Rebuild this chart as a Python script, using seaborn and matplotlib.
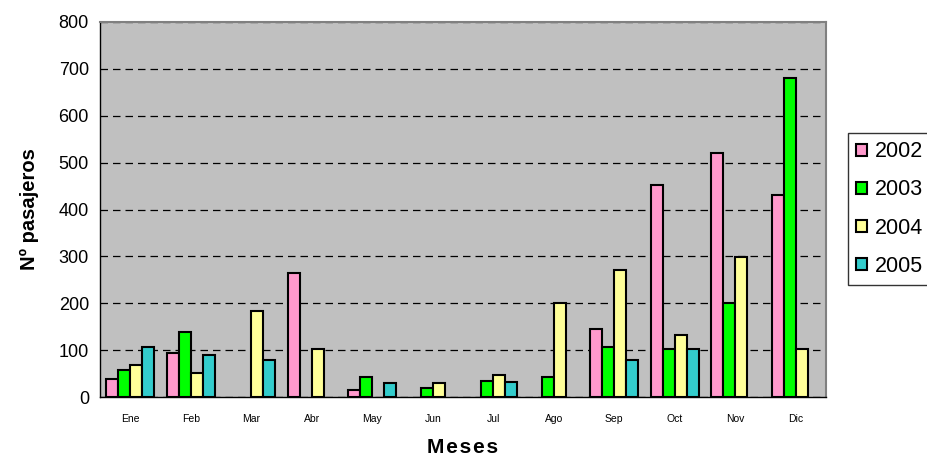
import matplotlib
matplotlib.use("Agg")
import matplotlib.pyplot as plt
import seaborn as sns
import pandas as pd
import numpy as np

# monthly passenger counts per year (NaN = no bar)
meses = ["Ene", "Feb", "Mar", "Abr", "May", "Jun", "Jul", "Ago", "Sep", "Oct", "Nov", "Dic"]
years = ["2002", "2003", "2004", "2005"]
v2002 = [38, 94, np.nan, 265, 16, np.nan, np.nan, np.nan, 145, 452, 520, 430]
v2003 = [58, 139, np.nan, np.nan, 42, 20, 34, 42, 107, 102, 200, 680]
v2004 = [68, 51, 183, 102, np.nan, 29, 46, 200, 272, 133, 298, 102]
v2005 = [107, 90, 80, np.nan, 29, np.nan, 33, np.nan, 80, 102, np.nan, np.nan]
colors = ["#FF99CC", "#00FF00", "#FFFF99", "#33CCCC"]

rows = []
for yr, vals in zip(years, [v2002, v2003, v2004, v2005]):
    for m, v in zip(meses, vals):
        rows.append({"Mes": m, "Año": yr, "Valor": v})
df = pd.DataFrame(rows)

sns.set_style("white")
plt.rcParams["font.family"] = ["Liberation Sans", "DejaVu Sans"]
plt.rcParams["text.color"] = "black"
plt.rcParams["axes.labelcolor"] = "black"
plt.rcParams["xtick.color"] = "black"
plt.rcParams["ytick.color"] = "black"

fig = plt.figure(figsize=(9.27, 4.59), dpi=100)
ax = fig.add_axes([100 / 927, 62 / 459, 726 / 927, 375 / 459])
ax.set_facecolor("#C0C0C0")

sns.barplot(data=df, x="Mes", y="Valor", hue="Año", order=meses, hue_order=years,
            palette=colors, width=0.8, edgecolor="black", linewidth=1.5,
            saturation=1, ax=ax, zorder=3)

ax.set_ylim(0, 800)
ax.set_xlim(-0.5, 11.5)
ax.set_yticks(range(0, 801, 100))
ax.yaxis.grid(True, linestyle=(0, (6, 4)), color="black", linewidth=0.9, zorder=1)
ax.set_axisbelow(True)

# category tick marks between groups, labels centred
ax.set_xticks(np.arange(-0.5, 12, 1), minor=False)
ax.set_xticklabels([])
ax.set_xticks(range(12), minor=True)
ax.set_xticklabels(meses, minor=True, fontsize=7.5)
ax.tick_params(axis="x", which="major", direction="out", length=5, width=1, color="black")
ax.tick_params(axis="x", which="minor", length=0, pad=12)
ax.tick_params(axis="y", direction="out", length=5, width=1, color="black", labelsize=13, pad=3)

for s in ["left", "bottom"]:
    ax.spines[s].set_color("black")
    ax.spines[s].set_linewidth(1)
for s in ["top", "right"]:
    ax.spines[s].set_color("#808080")
    ax.spines[s].set_linewidth(1.5)

ax.set_xlabel("M\u200ae\u200as\u200ae\u200as", fontsize=15, fontweight="bold", labelpad=10)
ax.set_ylabel("Nº pasajeros", fontsize=14.5, fontweight="bold", labelpad=14)

leg = ax.legend(loc="upper left", bbox_to_anchor=(848 / 927, (459 - 133) / 459),
                bbox_transform=fig.transFigure, borderaxespad=0, frameon=True, fancybox=False,
                fontsize=15.5, handlelength=0.48, handleheight=0.48, handletextpad=0.4,
                labelspacing=0.8, borderpad=0.38, edgecolor="black", title=None)
leg.get_frame().set_linewidth(1)

fig.savefig("out.png", dpi=100)
